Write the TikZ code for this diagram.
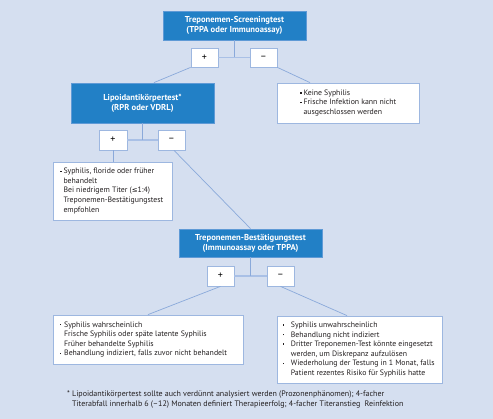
\documentclass[tikz,border=0pt]{standalone}
\usepackage{fontspec}
\setmainfont{PT Sans}
\newfontfamily\dejavu{DejaVu Sans}
\usetikzlibrary{calc}
\definecolor{bg}{HTML}{D5DFF0}
\definecolor{bluebox}{HTML}{2280C6}
\definecolor{blueedge}{HTML}{5F9AD6}
\definecolor{edge}{HTML}{9DB7E0}
\definecolor{conn}{HTML}{8AA9DA}
\definecolor{bar}{HTML}{A9C0E6}
\definecolor{ink}{HTML}{231F20}
\newcommand\bul[1]{\makebox[#1][l]{\rule[1.8pt]{1.4pt}{1.4pt}}}
\newcommand\ind[1]{\hspace*{#1}}
\tikzset{
  testbox/.style={draw=blueedge, fill=bluebox, line width=0.8pt, text=white,
    font=\bfseries\fontsize{8.6}{10}\selectfont, align=center, inner sep=0pt},
  signbox/.style={draw=edge, fill=white, line width=0.8pt, minimum width=27pt,
    minimum height=19pt, inner sep=0pt, font=\fontsize{10}{10}\selectfont, text=black},
  notebox/.style={draw=edge, fill=white, line width=0.8pt, inner sep=0pt},
  notetext/.style={anchor=west, inner sep=0pt, align=left, text=ink,
    font=\fontsize{7.8}{9.6}\selectfont},
  link/.style={draw=conn, line width=0.7pt},
  barlink/.style={draw=bar, line width=1.8pt},
}
\begin{document}
\begin{tikzpicture}[x=1pt,y=-1pt]
\useasboundingbox[fill=bg] (0,0) rectangle (493,419);

% level 1
\node[testbox, minimum width=143pt, minimum height=29pt] (s1) at (234.5,25.5)
  {Treponemen-Screeningtest\\(TPPA oder Immunoassay)};
\node[signbox] (p1) at (204.5,57.5) {+};
\node[signbox] (m1) at (263.5,57.5) {–};

% level 2
\node[testbox, minimum width=143pt, minimum height=40pt] (l1) at (142.5,103)
  {Lipoidantikörpertest*\\(RPR oder VDRL)};
\node[notebox, minimum width=142pt, minimum height=40pt] (k1) at (348,103) {};
\node[notetext] (k1t) at (300,103)
  {\bul{3.3pt}Keine Syphilis\\
   \bul{3.3pt}Frische Infektion kann nicht\\
   \ind{3.3pt}ausgeschlossen werden};
\node[signbox, minimum width=28pt, minimum height=20pt] (p2) at (113,140) {+};
\node[signbox, minimum height=20pt] (m2) at (171.5,140) {–};

% level 3
\node[notebox, minimum width=119pt, minimum height=58pt] (t1) at (112.5,191) {};
\node[notetext] (t1t) at (60,191)
  {\bul{3.3pt}Syphilis, floride oder früher\\
   \ind{3.3pt}behandelt\\
   \ind{3.3pt}Bei niedrigem Titer ({\dejavu\fontsize{7}{9.6}\selectfont ≤}1:4)\\
   \ind{3.3pt}Treponemen-Bestätigungstest\\
   \ind{3.3pt}empfohlen};

\node[testbox, minimum width=143pt, minimum height=28pt] (b1) at (250.5,243)
  {Treponemen-Bestätigungstest\\(Immunoassay oder TPPA)};
\node[signbox, minimum height=20pt] (p3) at (220.5,276) {+};
\node[signbox, minimum height=20pt] (m3) at (280.5,276) {–};

% level 4
\node[notebox, minimum width=190pt, minimum height=49pt] (t2) at (148,339.5) {};
\node[notetext] (t2t) at (59.5,339.5)
  {\bul{4.5pt}Syphilis wahrscheinlich\\
   \ind{4.5pt}Frische Syphilis oder späte latente Syphilis\\
   \ind{4.5pt}Früher behandelte Syphilis\\
   \bul{4.5pt}Behandlung indiziert, falls zuvor nicht behandelt};
\node[notebox, minimum width=165pt, minimum height=67pt] (t3) at (359.5,349.5) {};
\node[notetext] (t3t) at (282.7,349.5)
  {\bul{8pt}Syphilis unwahrscheinlich\\
   \bul{8pt}Behandlung nicht indiziert\\
   \bul{8pt}Dritter Treponemen-Test könnte eingesetzt\\
   \ind{8pt}werden, um Diskrepanz aufzulösen\\
   \bul{8pt}Wiederholung der Testung in 1 Monat, falls\\
   \ind{8pt}Patient rezentes Risiko für Syphilis hatte};

% footnote
\node[anchor=north west, inner sep=0pt, align=left, text=ink,
  font=\fontsize{8}{10}\selectfont] (fn) at (67,391)
  {* Lipoidantikörpertest sollte auch verdünnt analysiert werden (Prozonenphänomen); 4-facher\\
   \phantom{* }Titerabfall innerhalb 6 (–12) Monaten definiert Therapieerfolg; 4-facher Titeranstieg\ \ Reinfektion};

% connectors
\draw[barlink] (p1.east) -- (m1.west);
\draw[link] (s1.south) -- (s1.south |- p1.east);
\draw[link] (p1.south west) -- ([xshift=11.5pt]l1.north);
\draw[link] (m1.south east) -- ([xshift=-38pt]k1.north);

\draw[barlink] (p2.east) -- (m2.west);
\draw[link] (l1.south) -- (l1.south |- p2.east);
\draw[link] (p2.south) -- (p2.south |- t1.north);
\draw[link] ([xshift=2.5pt]m2.south) -- (b1.north);

\draw[barlink] (p3.east) -- (m3.west);
\draw[link] (b1.south) -- (b1.south |- p3.east);
\draw[link] (p3.south) -- (t2.north);
\draw[link] (m3.south) -- ([xshift=-12.5pt]t3.north);
\end{tikzpicture}
\end{document}
